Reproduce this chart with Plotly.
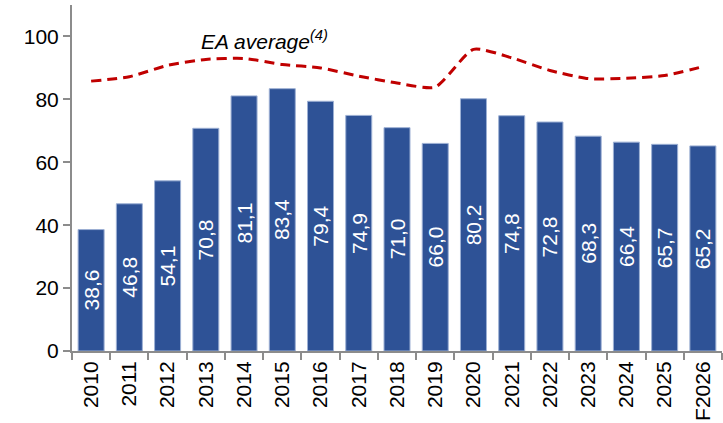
import plotly.graph_objects as go

categories = ["2010", "2011", "2012", "2013", "2014", "2015", "2016", "2017", "2018",
              "2019", "2020", "2021", "2022", "2023", "2024", "2025", "F2026"]
bar_values = [38.6, 46.8, 54.1, 70.8, 81.1, 83.4, 79.4, 74.9, 71.0,
              66.0, 80.2, 74.8, 72.8, 68.3, 66.4, 65.7, 65.2]
ea_average = [85.8, 87.2, 90.8, 92.7, 93.0, 91.1, 90.0, 87.4, 85.2,
              83.9, 95.9, 93.2, 89.2, 86.6, 86.7, 87.6, 90.4]
bar_labels = [f"{v:.1f}".replace(".", ",") for v in bar_values]
y_ticks = [0, 20, 40, 60, 80, 100]

FONT = "Liberation Sans, Arial, sans-serif"

fig = go.Figure()
fig.add_trace(go.Bar(
    x=categories, y=bar_values,
    marker=dict(color="#2E5296", line=dict(color="#9DB0D4", width=1)),
    showlegend=False,
))
for i, (val, lab) in enumerate(zip(bar_values, bar_labels)):
    fig.add_annotation(
        x=i, y=val / 2, xref="x", yref="y", text=lab, textangle=-90,
        showarrow=False, font=dict(color="white", size=21, family=FONT),
    )
fig.add_trace(go.Scatter(
    x=categories, y=ea_average, mode="lines",
    line=dict(color="#C00000", width=3, dash="10px,6px", shape="spline", smoothing=0.6),
    showlegend=False,
))
fig.add_annotation(
    x=2.83, y=99, xref="x", yref="y", xanchor="left", yanchor="middle",
    text="<i>EA average<sup>(4)</sup></i>", showarrow=False,
    font=dict(size=21, color="black", family=FONT),
)
fig.update_layout(
    width=723, height=423,
    margin=dict(l=72, r=1, t=5, b=72),
    plot_bgcolor="white", paper_bgcolor="white",
    bargap=0.32,
    font=dict(family=FONT, size=21, color="black"),
)
fig.update_xaxes(
    type="category", range=[-0.5, len(categories) - 0.5], tickangle=-90,
    showline=True, linecolor="#8C8C8C", linewidth=2,
    ticks="outside", tickson="boundaries", ticklen=7, tickcolor="#8C8C8C", tickwidth=2,
    showgrid=False, tickfont=dict(size=21, family=FONT, color="black"),
)
fig.update_yaxes(
    range=[0, 110], tickvals=y_ticks, showline=True, linecolor="#8C8C8C", linewidth=2,
    ticks="outside", ticklen=7, tickcolor="#8C8C8C", tickwidth=2, showgrid=False,
    zeroline=False, tickfont=dict(size=21, family=FONT, color="black"),
)
fig.write_html("out.html", config={"displayModeBar": False},
               post_script="document.body.style.margin='0';document.body.style.overflow='hidden';")
